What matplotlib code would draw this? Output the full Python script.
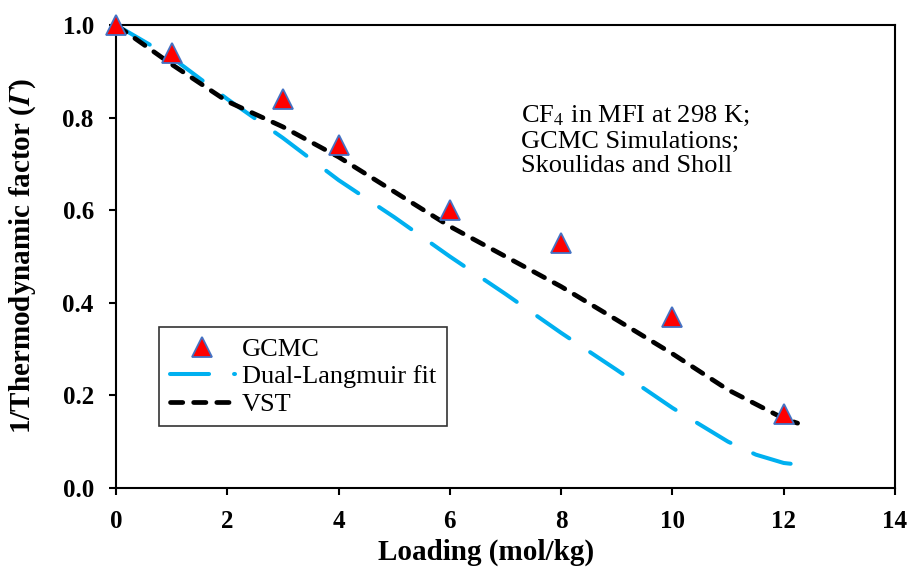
import matplotlib.pyplot as plt

plt.rcParams['font.family'] = ['Liberation Serif', 'DejaVu Serif']
plt.rcParams['mathtext.fontset'] = 'stix'

# GCMC simulation points
gcmc_x = [0, 1, 3, 4, 6, 8, 10, 12]
gcmc_y = [1.0, 0.94, 0.84, 0.74, 0.60, 0.53, 0.37, 0.16]

# Dual-Langmuir fit
dl_x = [0, 1, 2, 3, 4, 5, 6, 7, 8, 9, 10, 11, 11.5, 12, 12.15]
dl_y = [1.0, 0.93, 0.84, 0.756, 0.665, 0.585, 0.50, 0.419, 0.335, 0.255, 0.173, 0.10, 0.072, 0.054, 0.052]

# VST
vst_x = [0, 1, 2, 3, 4, 5, 6, 7, 8, 9, 10, 11, 12, 12.25]
vst_y = [1.0, 0.915, 0.835, 0.78, 0.715, 0.64, 0.565, 0.50, 0.435, 0.363, 0.29, 0.212, 0.15, 0.14]

fig = plt.figure(figsize=(9.1, 5.79), dpi=100)
ax = fig.add_axes([0.1275, 0.1572, 0.856, 0.7996])

l1, = ax.plot(dl_x, dl_y, color='#00B0F0', lw=2.9, dashes=(9.7, 6.2),
              dash_capstyle='round', label='Dual-Langmuir fit')
l2, = ax.plot(vst_x, vst_y, color='black', lw=3.4, dashes=(2.6, 2.3),
              dash_capstyle='round', label='VST')
p, = ax.plot(gcmc_x, gcmc_y, ls='none', marker='^', ms=14, mfc='red',
             mec='#4472C4', mew=1.3, label='GCMC', clip_on=False, zorder=5)

ax.set_xlim(0, 14)
ax.set_ylim(0, 1.0)
ax.set_xticks(range(0, 15, 2))
ax.set_yticks([0.0, 0.2, 0.4, 0.6, 0.8, 1.0])
ax.set_yticklabels(['0.0', '0.2', '0.4', '0.6', '0.8', '1.0'])
ax.tick_params(direction='out', length=5, width=1.5, labelsize=18, pad=11)
for lab in ax.get_xticklabels() + ax.get_yticklabels():
    lab.set_fontweight('bold')
for s in ax.spines.values():
    s.set_linewidth(1.5)

ax.set_xlabel('Loading (mol/kg)', fontsize=21, fontweight='bold')
ax.xaxis.set_label_coords(0.475, -0.11)
ax.set_ylabel(r'1/Thermodynamic factor ($\mathbfit{\Gamma}$)', fontsize=21,
              fontweight='bold')
ax.yaxis.set_label_coords(-0.1, 0.5)

ax.text(0.52, 0.75, 'CF$_4$ in MFI at 298 K;\nGCMC Simulations;\nSkoulidas and Sholl',
        transform=ax.transAxes, fontsize=19, va='center', ha='left', linespacing=1.15)

leg = ax.legend(handles=[p, l1, l2], loc='upper left', bbox_to_anchor=(0.0551, 0.3477),
                borderaxespad=0, fontsize=19, frameon=True, fancybox=False,
                edgecolor='black', handlelength=2.5, handletextpad=0.25,
                borderpad=0.4, labelspacing=0.15)
leg.get_frame().set_linewidth(1.2)

fig.savefig('out.png', dpi=100)
